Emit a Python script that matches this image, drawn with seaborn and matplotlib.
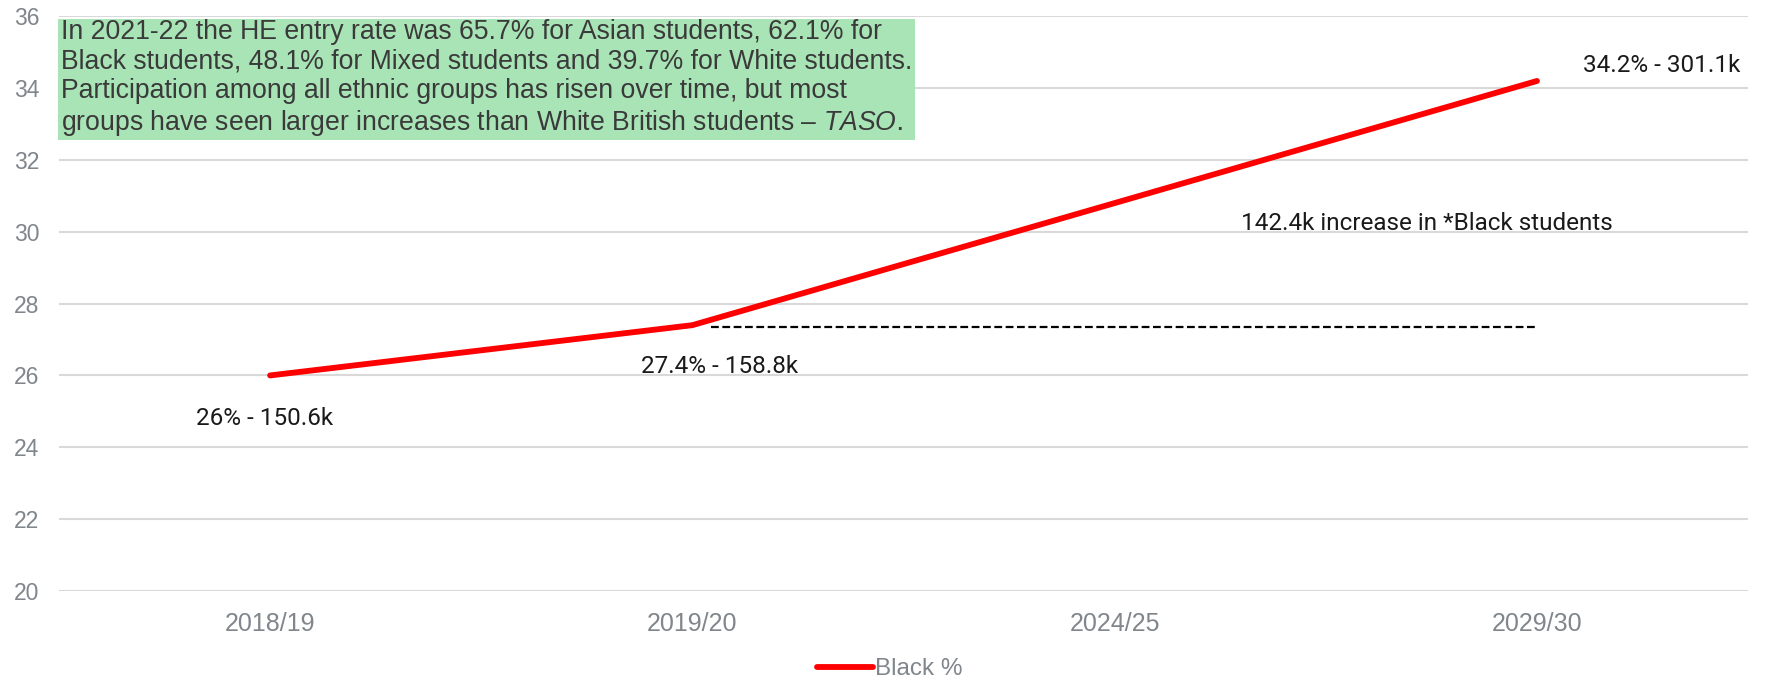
import numpy as np
import pandas as pd
import matplotlib
matplotlib.use("Agg")
import matplotlib.pyplot as plt
import seaborn as sns

# Academic years on the category axis
years = ["2018/19", "2019/20", "2024/25", "2029/30"]
# Share of Black students (%); 2024/25 has no recorded value
black_pct = [26.0, 27.4, np.nan, 34.2]
# Point labels: percentage and headcount
point_labels = ["26% - 150.6k", "27.4% - 158.8k", None, "34.2% - 301.1k"]
increase_label = "142.4k increase in *Black students"
note_lines = [
    "In 2021-22 the HE entry rate was 65.7% for Asian students, 62.1% for",
    "Black students, 48.1% for Mixed students and 39.7% for White students.",
    "Participation among all ethnic groups has risen over time, but most",
    "groups have seen larger increases than White British students \u2013 $\\it{TASO.}$",
]
y_ticks = [20, 22, 24, 26, 28, 30, 32, 34, 36]

sns.set_theme(style="white")
plt.rcParams["font.family"] = ["Liberation Sans", "DejaVu Sans"]
plt.rcParams["mathtext.fontset"] = "custom"
plt.rcParams["mathtext.it"] = "Liberation Sans:italic"

df = pd.DataFrame({"pos": range(len(years)), "year": years, "Black %": black_pct}).dropna()

fig = plt.figure(figsize=(17.8, 6.8), dpi=100)
ax = fig.add_axes([0.0331, 0.131, 0.949, 0.845])

for t in y_ticks:
    ax.axhline(t, color="#d9d9d9", lw=1.5, zorder=0)

sns.lineplot(data=df, x="pos", y="Black %", ax=ax, color="#ff0000", lw=4.2,
             label="Black %", solid_capstyle="round", zorder=3, legend=False)

# Dashed reference at the 2019/20 level out to 2029/30
ax.plot([1.045, 3.0], [black_pct[1] - 0.05] * 2, color="black", lw=1.6,
        linestyle=(0, (3.5, 1.6)), zorder=2)

ann_font = dict(family=["Roboto", "DejaVu Sans"], fontweight="normal", color="#1a1a1a", fontsize=17.5)
ax.text(-0.013, 24.8, point_labels[0], ha="center", va="center", **ann_font)
ax.text(1.065, 26.25, point_labels[1], ha="center", va="center", **ann_font)
ax.text(3.11, 34.64, point_labels[3], ha="left", va="center", **ann_font)
ax.text(2.30, 30.23, increase_label, ha="left", va="center", **ann_font)

ax.text(0.001, 0.995, "\n".join(note_lines), transform=ax.transAxes, ha="left", va="top",
        fontsize=19.2, color="#3a3a3a", linespacing=1.17,
        bbox=dict(boxstyle="square,pad=0.1", facecolor="#a8e4b6", edgecolor="none"),
        zorder=5)

ax.set_xlim(-0.5, 3.5)
ax.set_ylim(20, 36)
ax.set_xticks(range(len(years)))
ax.set_xticklabels(years)
ax.set_yticks(y_ticks)
ax.tick_params(axis="both", colors="#80868b", length=0)
ax.tick_params(axis="x", pad=15, labelsize=18)
ax.tick_params(axis="y", pad=14, labelsize=16.5)
ax.set_xlabel("")
ax.set_ylabel("")
for s in ax.spines.values():
    s.set_visible(False)

handles, labels = ax.get_legend_handles_labels()
leg = fig.legend(handles, labels, loc="center", bbox_to_anchor=(0.5, 0.016), frameon=False,
                 fontsize=17.5, handlelength=2.3, handletextpad=0.1, borderpad=0)
for txt in leg.get_texts():
    txt.set_color("#80868b")

fig.savefig("out.png", dpi=100)
